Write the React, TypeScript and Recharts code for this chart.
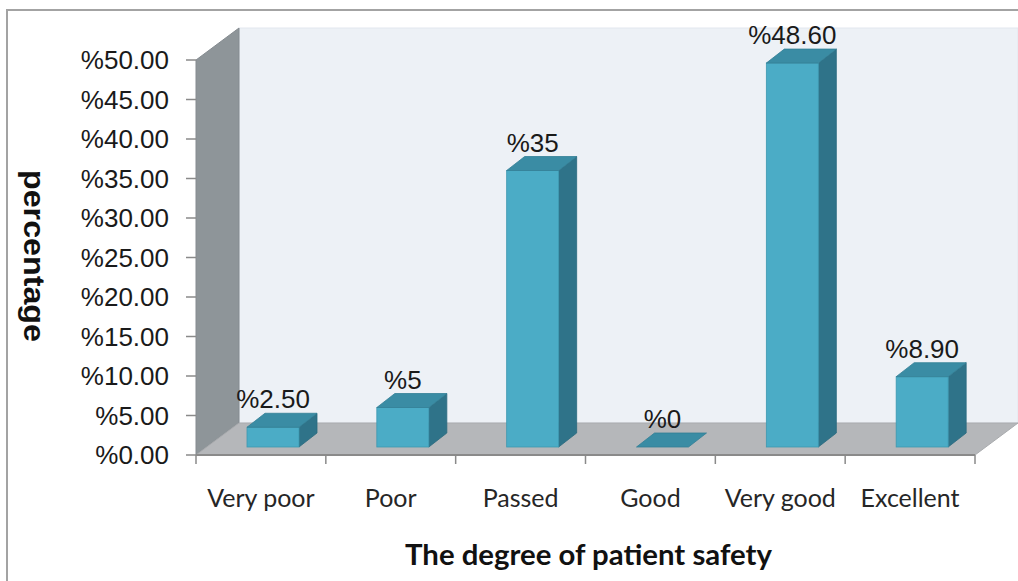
import React from "react";
import { BarChart, Bar, XAxis, YAxis, ReferenceArea, LabelList } from "recharts";

const categories = ["Very poor", "Poor", "Passed", "Good", "Very good", "Excellent"];
const values = [2.5, 5, 35, 0, 48.6, 8.9];
const valueLabels = ["%2.50", "%5", "%35", "%0", "%48.60", "%8.90"];
const yTicks = [0, 5, 10, 15, 20, 25, 30, 35, 40, 45, 50];
const xTitle = "The degree of patient safety";
const yTitle = "percentage";

const data = categories.map((c, i) => ({ category: c, value: values[i], label: valueLabels[i] }));

const W = 1018;
const H = 581;
const DEPTH_X = 43;
const DEPTH_Y = -32;
const SHIFT_X = 12;
const SHIFT_Y = -8;
const BAR_DX = 18;
const BAR_DY = -14;

const FRONT = "#4BACC6";
const TOP = "#3A8CA4";
const SIDE = "#2F7389";

function Walls(props: any) {
  const { x, y, width, height } = props;
  const n = categories.length;
  const bx = x + DEPTH_X;
  const by = y + DEPTH_Y;
  const bottom = y + height;
  const ticks = [];
  for (let i = 0; i <= n; i++) {
    const tx = x + (i * width) / n;
    ticks.push(<line key={i} x1={tx} y1={bottom} x2={tx} y2={bottom + 9} stroke="#8a8a8a" strokeWidth={1.5} />);
  }
  return (
    <g>
      <polygon
        points={`${bx},${by} ${bx + width},${by} ${bx + width},${by + height} ${bx},${by + height}`}
        fill="#EDF1F6"
        stroke="#E2E7EE"
        strokeWidth={1}
      />
      <polygon
        points={`${x},${y} ${bx},${by} ${bx},${by + height} ${x},${bottom}`}
        fill="#8E9599"
        stroke="#858b90"
        strokeWidth={1}
      />
      <polygon
        points={`${x},${bottom} ${x + width},${bottom} ${bx + width},${by + height} ${bx},${by + height}`}
        fill="#B5B7BA"
        stroke="#a9abae"
        strokeWidth={1}
      />
      <line x1={x} y1={bottom} x2={x + width} y2={bottom} stroke="#8a8a8a" strokeWidth={2} />
      {ticks}
    </g>
  );
}

function Bar3D(props: any) {
  const { x, y, width, height } = props;
  if (x == null || y == null) return null;
  const fx = x + SHIFT_X;
  const fy = y + SHIFT_Y;
  const w = width;
  const h = Math.max(0, height || 0);
  return (
    <g>
      {h > 0 && (
        <polygon
          points={`${fx + w},${fy} ${fx + w + BAR_DX},${fy + BAR_DY} ${fx + w + BAR_DX},${fy + h + BAR_DY} ${fx + w},${fy + h}`}
          fill={SIDE}
          stroke="#2a6a7e"
          strokeWidth={0.8}
        />
      )}
      {h > 0 && <rect x={fx} y={fy} width={w} height={h} fill={FRONT} stroke="#3d98b0" strokeWidth={0.8} />}
      <polygon
        points={`${fx},${fy} ${fx + BAR_DX},${fy + BAR_DY} ${fx + w + BAR_DX},${fy + BAR_DY} ${fx + w},${fy}`}
        fill={TOP}
        stroke="#327f96"
        strokeWidth={0.8}
      />
    </g>
  );
}

const renderValueLabel = (p: any) => {
  const vb = p.viewBox || {};
  const x = p.x != null ? p.x : vb.x;
  const y = p.y != null ? p.y : vb.y;
  const width = p.width != null ? p.width : vb.width;
  return (
    <text
      x={x + width / 2 + SHIFT_X}
      y={y + SHIFT_Y - 19}
      textAnchor="middle"
      fontFamily="'Liberation Sans', Arial, sans-serif"
      fontSize={26}
      fill="#1a1a1a"
    >
      {p.value}
    </text>
  );
};

const CategoryTick = (p: any) => (
  <text
    x={p.x}
    y={p.y + 52}
    textAnchor="middle"
    fontFamily="Lato, 'Open Sans', sans-serif"
    fontSize={25}
    fill="#262626"
  >
    {p.payload.value}
  </text>
);

const XTitle = (p: any) => {
  const vb = p.viewBox || {};
  return (
    <text
      x={vb.x + vb.width / 2 + 3}
      y={vb.y + 110}
      textAnchor="middle"
      fontFamily="Lato, 'Open Sans', sans-serif"
      fontWeight={700}
      fontSize={29}
      fill="#111"
      textLength={367}
      lengthAdjust="spacingAndGlyphs"
    >
      {xTitle}
    </text>
  );
};

const YTitle = () => (
  <text
    x={0}
    y={0}
    transform="translate(24,256) rotate(90)"
    textAnchor="middle"
    fontFamily="'Liberation Sans', Arial, sans-serif"
    fontWeight={700}
    fontSize={29}
    fill="#111"
    textLength={172}
    lengthAdjust="spacingAndGlyphs"
  >
    {yTitle}
  </text>
);

export default function App() {
  return (
    <div style={{ position: "absolute", left: 0, top: 0, width: W, height: H, background: "#fff", overflow: "hidden" }}>
      <div
        style={{
          position: "absolute",
          left: 6,
          top: 9,
          width: W + 20,
          height: H + 20,
          borderTop: "2px solid #a3a3a3",
          borderLeft: "2px solid #a3a3a3",
        }}
      />
      <div style={{ position: "absolute", left: 0, top: 0 }}>
        <BarChart
          width={W}
          height={H}
          data={data}
          margin={{ top: 60, right: 43, bottom: 66, left: 0 }}
          barSize={52}
        >
          <ReferenceArea y1={0} y2={50} ifOverflow="visible" shape={<Walls />} />
          <XAxis
            dataKey="category"
            axisLine={false}
            tickLine={false}
            tickSize={0}
            tickMargin={0}
            height={60}
            interval={0}
            tick={<CategoryTick />}
            label={{ value: xTitle, content: <XTitle /> }}
          />
          <YAxis
            type="number"
            domain={[0, 50]}
            ticks={yTicks}
            width={196}
            axisLine={false}
            tickLine={{ stroke: "#8a8a8a", strokeWidth: 1.5 }}
            tickSize={10}
            tickMargin={17}
            tickFormatter={(v: number) => "%" + v.toFixed(2)}
            tick={{ fontFamily: "'Liberation Sans', Arial, sans-serif", fontSize: 26, fill: "#1a1a1a" }}
            label={{ value: yTitle, content: <YTitle /> }}
          />
          <Bar dataKey="value" isAnimationActive={false} shape={<Bar3D />}>
            <LabelList dataKey="label" content={renderValueLabel} />
          </Bar>
        </BarChart>
      </div>
    </div>
  );
}
